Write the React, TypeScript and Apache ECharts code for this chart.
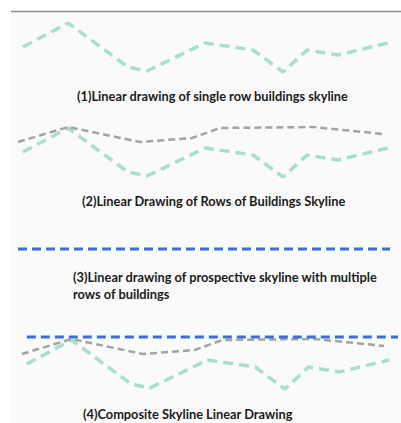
import React, { useEffect, useRef } from "react";
import * as echarts from "echarts";

// Distances along the street (arbitrary units) and skyline heights
const frontDistance = [23, 68, 128, 147, 205, 253, 283, 307, 338, 388];
const frontHeight = [43, 67, 23, 19, 47, 40, 18, 40, 35, 47];
const backDistance = [18, 68, 140, 192, 220, 313, 383];
const backHeight = [53, 68, 53, 57, 67, 68, 61];
const prospectDistance3 = [18, 390];
const prospectDistance4 = [23, 397];
const prospectHeight = [70, 70];

const titles = [
  "(1)Linear drawing of single row buildings skyline",
  "(2)Linear Drawing of Rows of Buildings Skyline",
  "(3)Linear drawing of prospective skyline with multiple",
  "rows of buildings",
  "(4)Composite Skyline Linear Drawing",
];

const GREEN = "#a6dfcb";
const GRAY = "#a3a3a3";
const BLUE = "#3c6fd2";

function pairs(xs: number[], ys: number[]) {
  return xs.map((x, i) => [x, ys[i]]);
}

export default function App() {
  const ref = useRef<HTMLDivElement>(null);
  useEffect(() => {
    const chart = echarts.init(ref.current!, null, { renderer: "svg" });
    const grids = [
      { left: 0, top: 10, width: 400, height: 80 },
      { left: 0, top: 115, width: 400, height: 80 },
      { left: 0, top: 239, width: 400, height: 80 },
      { left: 4, top: 327, width: 400, height: 80 },
    ];
    const xAxis = grids.map((_, i) => ({ type: "value", gridIndex: i, min: 0, max: 400, show: false }));
    const yAxis = grids.map((_, i) => ({ type: "value", gridIndex: i, min: 0, max: 80, show: false }));
    const green = (i: number) => ({
      type: "line",
      xAxisIndex: i,
      yAxisIndex: i,
      data: pairs(frontDistance, frontHeight),
      symbol: "none",
      lineStyle: { color: GREEN, width: 3.5, type: [10, 6] },
      z: 2,
    });
    const gray = (i: number) => ({
      type: "line",
      xAxisIndex: i,
      yAxisIndex: i,
      data: pairs(backDistance, backHeight),
      symbol: "none",
      lineStyle: { color: GRAY, width: 2.5, type: [7, 4] },
      z: 3,
    });
    const blue = (i: number, xs: number[]) => ({
      type: "line",
      xAxisIndex: i,
      yAxisIndex: i,
      data: pairs(xs, prospectHeight),
      symbol: "none",
      lineStyle: { color: BLUE, width: 3, type: [9, 5] },
      z: 4,
    });
    const textStyle = { fontFamily: "Lato", fontWeight: "bold", fontSize: 12.8, fill: "#1a1a1a" };
    chart.setOption({
      animation: false,
      grid: grids,
      xAxis,
      yAxis,
      series: [
        green(0),
        gray(1),
        green(1),
        blue(2, prospectDistance3),
        green(3),
        gray(3),
        blue(3, prospectDistance4),
      ],
      graphic: [
        { type: "rect", shape: { x: 11, y: 12, width: 400, height: 420 }, style: { fill: "#fafafa" }, z: -10 },
        { type: "line", shape: { x1: 11, y1: 11.5, x2: 401, y2: 11.5 }, style: { stroke: "#8a8a8a", lineWidth: 1.5 } },
        { type: "text", x: 77, y: 96, style: { text: titles[0], ...textStyle, verticalAlign: "middle" } },
        { type: "text", x: 82, y: 201, style: { text: titles[1], ...textStyle, verticalAlign: "middle" } },
        { type: "text", x: 73, y: 277, style: { text: titles[2], ...textStyle, verticalAlign: "middle" } },
        { type: "text", x: 73, y: 294, style: { text: titles[3], ...textStyle, verticalAlign: "middle" } },
        { type: "text", x: 83, y: 414, style: { text: titles[4], ...textStyle, verticalAlign: "middle" } },
      ],
    });
    return () => chart.dispose();
  }, []);
  return (
    <div
      ref={ref}
      style={{ position: "fixed", left: 0, top: 0, width: 401, height: 423, background: "#ffffff" }}
    />
  );
}
